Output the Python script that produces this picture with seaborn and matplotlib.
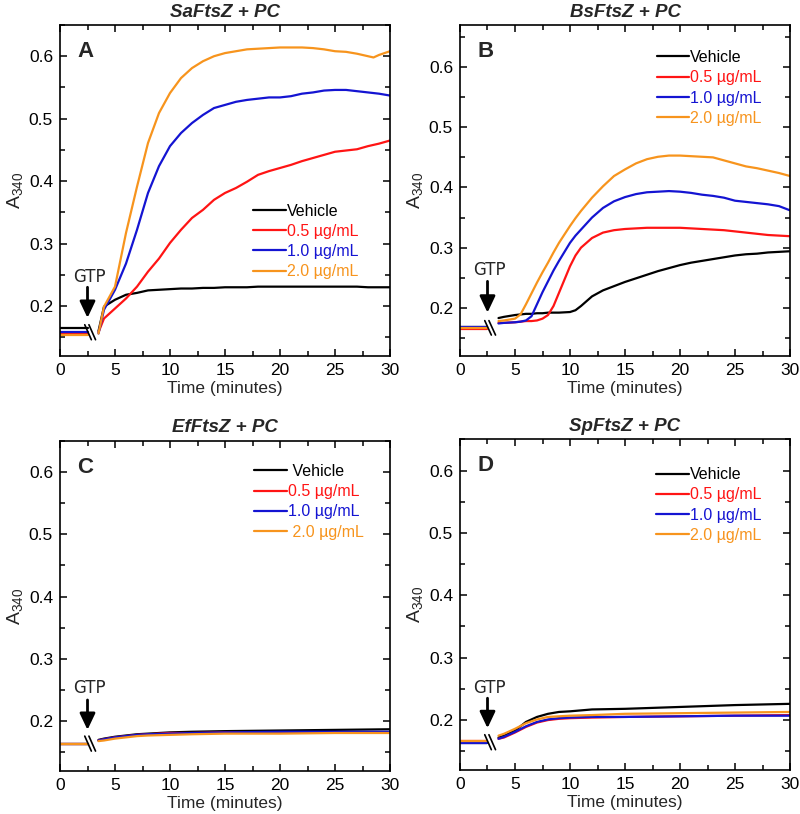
import numpy as np
import pandas as pd
import matplotlib.pyplot as plt
import seaborn as sns
from matplotlib.ticker import MultipleLocator

# legend entries and line colours
series = ['Vehicle', '0.5 µg/mL', '1.0 µg/mL', '2.0 µg/mL']
colors = ['#000000', '#ff1414', '#1414d2', '#f7941d']

# time before GTP addition (same for all panels)
t_pre = [0, 2.5]

# --- A: SaFtsZ ---
tA = [3.5, 4, 5, 6, 7, 8, 9, 10, 11, 12, 13, 14, 15, 16, 17, 18, 19, 20, 21,
      22, 23, 24, 25, 26, 27, 28, 28.5, 29, 30]
preA = [0.164, 0.156, 0.159, 0.153]
vehA = [0.160, 0.199, 0.210, 0.218, 0.221, 0.225, 0.226, 0.227, 0.228, 0.228,
        0.229, 0.229, 0.230, 0.230, 0.230, 0.231, 0.231, 0.231, 0.231, 0.231,
        0.231, 0.231, 0.231, 0.231, 0.231, 0.230, 0.230, 0.230, 0.230]
c05A = [0.158, 0.180, 0.196, 0.212, 0.231, 0.255, 0.276, 0.301, 0.322, 0.341,
        0.354, 0.370, 0.381, 0.389, 0.399, 0.410, 0.416, 0.421, 0.426, 0.432,
        0.437, 0.442, 0.447, 0.449, 0.451, 0.456, 0.458, 0.460, 0.465]
c10A = [0.156, 0.194, 0.226, 0.268, 0.322, 0.381, 0.424, 0.456, 0.477, 0.493,
        0.506, 0.517, 0.522, 0.527, 0.530, 0.532, 0.534, 0.534, 0.536, 0.540,
        0.542, 0.545, 0.546, 0.546, 0.544, 0.542, 0.541, 0.540, 0.537]
c20A = [0.156, 0.199, 0.231, 0.317, 0.391, 0.461, 0.509, 0.541, 0.565, 0.581,
        0.592, 0.600, 0.605, 0.608, 0.611, 0.612, 0.613, 0.614, 0.614, 0.614,
        0.613, 0.611, 0.608, 0.607, 0.604, 0.600, 0.598, 0.602, 0.608]

# --- B: BsFtsZ ---
tB = [3.5, 4, 5, 5.5, 6, 6.5, 7, 7.5, 8, 8.5, 9, 10, 10.5, 11, 12, 13, 14, 15,
      16, 17, 18, 19, 20, 21, 22, 23, 24, 25, 26, 27, 28, 29, 30]
preB = [0.168, 0.165, 0.168, 0.166]
vehB = [0.183, 0.185, 0.188, 0.189, 0.190, 0.190, 0.191, 0.191, 0.192, 0.192,
        0.192, 0.193, 0.196, 0.203, 0.219, 0.229, 0.236, 0.243, 0.249, 0.255,
        0.261, 0.266, 0.271, 0.275, 0.278, 0.281, 0.284, 0.287, 0.289, 0.290,
        0.292, 0.293, 0.294]
c05B = [0.175, 0.175, 0.176, 0.177, 0.178, 0.178, 0.179, 0.182, 0.188, 0.203,
        0.225, 0.269, 0.287, 0.300, 0.316, 0.325, 0.329, 0.331, 0.332, 0.333,
        0.333, 0.333, 0.333, 0.332, 0.331, 0.330, 0.329, 0.327, 0.325, 0.323,
        0.321, 0.320, 0.319]
c10B = [0.174, 0.175, 0.176, 0.177, 0.179, 0.186, 0.206, 0.226, 0.244, 0.262,
        0.278, 0.308, 0.320, 0.330, 0.350, 0.366, 0.377, 0.384, 0.389, 0.392,
        0.393, 0.394, 0.393, 0.391, 0.388, 0.386, 0.383, 0.378, 0.376, 0.374,
        0.372, 0.369, 0.362]
c20B = [0.178, 0.179, 0.182, 0.189, 0.206, 0.224, 0.242, 0.259, 0.275, 0.292,
        0.308, 0.336, 0.349, 0.361, 0.383, 0.402, 0.419, 0.430, 0.440, 0.447,
        0.451, 0.453, 0.453, 0.452, 0.451, 0.450, 0.445, 0.440, 0.435, 0.432,
        0.428, 0.424, 0.419]

# --- C: EfFtsZ ---
tC = [3.5, 4, 5, 6, 7, 8, 10, 12, 15, 20, 25, 30]
preC = [0.164, 0.164, 0.164, 0.164]
vehC = [0.170, 0.172, 0.175, 0.177, 0.179, 0.180, 0.182, 0.183, 0.184, 0.185, 0.186, 0.187]
c05C = [0.169, 0.171, 0.174, 0.176, 0.178, 0.179, 0.181, 0.181, 0.182, 0.182, 0.182, 0.182]
c10C = [0.169, 0.171, 0.174, 0.176, 0.178, 0.179, 0.180, 0.181, 0.182, 0.183, 0.183, 0.183]
c20C = [0.168, 0.169, 0.172, 0.174, 0.176, 0.177, 0.178, 0.179, 0.180, 0.180, 0.181, 0.181]

# --- D: SpFtsZ ---
tD = [3.5, 4, 5, 6, 7, 8, 9, 10, 12, 15, 20, 25, 30]
preD = [0.163, 0.166, 0.163, 0.166]
vehD = [0.172, 0.175, 0.183, 0.197, 0.205, 0.210, 0.213, 0.214, 0.217, 0.218, 0.221, 0.224, 0.226]
c05D = [0.170, 0.172, 0.180, 0.189, 0.196, 0.200, 0.202, 0.203, 0.204, 0.205, 0.206, 0.207, 0.208]
c10D = [0.170, 0.173, 0.181, 0.190, 0.197, 0.201, 0.203, 0.204, 0.205, 0.205, 0.206, 0.207, 0.207]
c20D = [0.175, 0.178, 0.186, 0.195, 0.201, 0.205, 0.206, 0.207, 0.208, 0.210, 0.211, 0.212, 0.213]


def make_df(pre, t_post, post):
    rows = []
    for name, p, vals in zip(series, pre, post):
        for t in t_pre:
            rows.append((t, p, name, 'pre'))
        for t, v in zip(t_post, vals):
            rows.append((t, v, name, 'post'))
    return pd.DataFrame(rows, columns=['time', 'A340', 'sample', 'seg'])


panels = [
    dict(title='SaFtsZ + PC', letter='A', df=make_df(preA, tA, [vehA, c05A, c10A, c20A]),
         pos=[0.075, 0.5627, 0.4125, 0.4066], ylim=(0.12, 0.65),
         leg=(0.585, 0.346), labels=series, gtp=(0.247, 0.230, 0.181)),
    dict(title='BsFtsZ + PC', letter='B', df=make_df(preB, tB, [vehB, c05B, c10B, c20B]),
         pos=[0.575, 0.5627, 0.4125, 0.4066], ylim=(0.12, 0.67),
         leg=(0.596, 0.810), labels=series, gtp=(0.2625, 0.244, 0.192)),
    dict(title='EfFtsZ + PC', letter='C', df=make_df(preC, tC, [vehC, c05C, c10C, c20C]),
         pos=[0.075, 0.0528, 0.4125, 0.4058], ylim=(0.12, 0.65),
         leg=(0.588, 0.815),
         labels=[' Vehicle', '0.5 µg/mL', '1.0 µg/mL', ' 2.0 µg/mL'],
         gtp=(0.2525, 0.234, 0.186)),
    dict(title='SpFtsZ + PC', letter='D', df=make_df(preD, tD, [vehD, c05D, c10D, c20D]),
         pos=[0.575, 0.0541, 0.4125, 0.4062], ylim=(0.12, 0.65),
         leg=(0.594, 0.801), labels=series, gtp=(0.252, 0.235, 0.187)),
]

sns.set_style('ticks')
plt.rcParams['font.family'] = ['Liberation Sans', 'DejaVu Sans']
plt.rcParams['mathtext.fontset'] = 'custom'
plt.rcParams['mathtext.rm'] = 'Liberation Sans'

fig = plt.figure(figsize=(8, 8.14), dpi=100)

for p in panels:
    ax = fig.add_axes(p['pos'])
    sns.lineplot(data=p['df'], x='time', y='A340', hue='sample', units='seg',
                 estimator=None, palette=colors, hue_order=series, lw=1.6,
                 ax=ax)
    handles, _ = ax.get_legend_handles_labels()
    ax.get_legend().remove()
    ax.legend(handles[:4], p['labels'], loc='center left', bbox_to_anchor=p['leg'],
              frameon=False, fontsize=11.5, handlelength=2.05, handletextpad=0.05,
              labelspacing=0.33, borderpad=0, borderaxespad=0,
              labelcolor='linecolor')

    ax.set_xlim(0, 30)
    ax.set_ylim(*p['ylim'])
    ax.xaxis.set_major_locator(MultipleLocator(5))
    ax.xaxis.set_minor_locator(MultipleLocator(2.5))
    ax.yaxis.set_major_locator(MultipleLocator(0.1))
    ax.yaxis.set_minor_locator(MultipleLocator(0.05))
    ax.tick_params(which='both', direction='in', top=True, right=True,
                   labelsize=12.5, width=1.1, colors='k')
    ax.tick_params(which='major', length=5, pad=5)
    ax.tick_params(which='minor', length=3.5)
    for s in ax.spines.values():
        s.set_linewidth(1.2)
        s.set_color('k')

    ax.set_xlabel('Time (minutes)', fontsize=12.5, labelpad=2)
    ax.set_ylabel(r'$\mathregular{A_{340}}$', fontsize=14, labelpad=3)
    ax.set_title(p['title'], fontsize=13.5, fontweight='bold', style='italic', pad=6)
    ax.text(0.076, 0.92, p['letter'], transform=ax.transAxes, fontsize=16,
            fontweight='bold', ha='center', va='center')

    # GTP arrow
    ty, y0, y1 = p['gtp']
    ax.text(2.65, ty, 'GTP', ha='center', va='center', fontsize=12, family='DejaVu Sans')
    ax.annotate('', xy=(2.5, y1), xytext=(2.5, y0),
                arrowprops=dict(arrowstyle='-|>,head_width=0.26,head_length=0.55',
                                lw=2, color='k', mutation_scale=18,
                                shrinkA=0, shrinkB=0))

    # axis break marks "\\"
    base = np.mean(p['df'].loc[p['df']['seg'] == 'pre', 'A340'])
    for off in (0, 0.38):
        ax.plot([2.25 + off, 2.85 + off], [base + 0.012, base - 0.012],
                color='k', lw=1.2)

fig.savefig('out.png', dpi=100)
